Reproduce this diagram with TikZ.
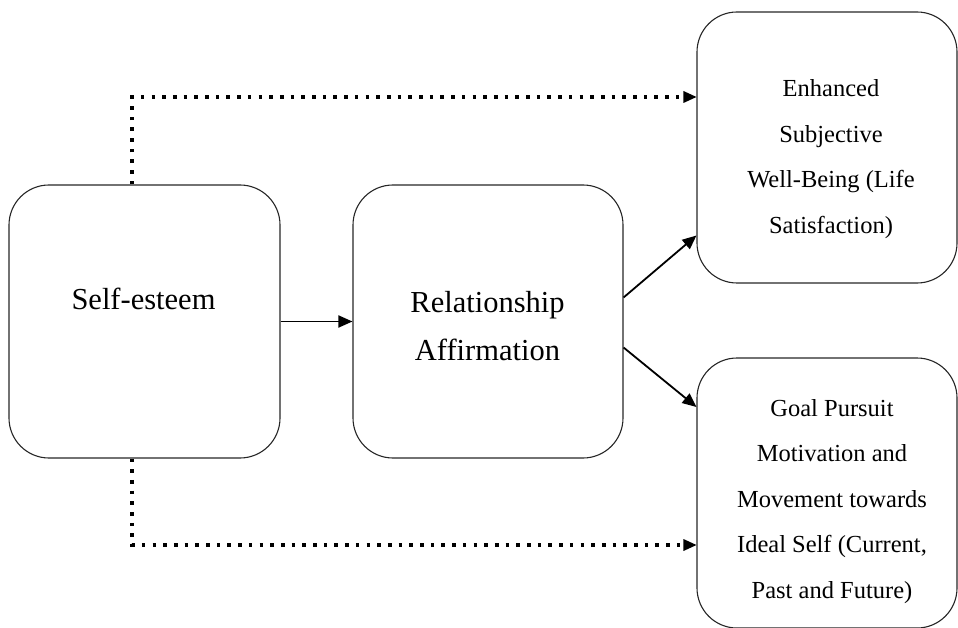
\documentclass[tikz,border=0pt]{standalone}
\usepackage{fontspec}
\setmainfont{Liberation Serif}
\usetikzlibrary{arrows.meta,calc}
\begin{document}
\begin{tikzpicture}[x=1pt,y=-1pt,
  box/.style={draw=black!85,line width=1.1pt,rounded corners=40pt,inner sep=0pt},
  bigtext/.style={align=center,inner sep=0pt,font=\fontsize{30.5}{48}\selectfont},
  smalltext/.style={align=center,inner sep=0pt,font=\fontsize{24.5}{45.5}\selectfont},
  solidarrow/.style={line width=1.8pt,-{Triangle[length=14pt,width=12pt]}},
  dottedarrow/.style={line width=3.6pt,dash pattern=on 3.6pt off 7.1pt,
     -{Triangle[length=13pt,width=12pt,line width=0pt]}}
]
\useasboundingbox (0,0) rectangle (958,628);
% boxes
\node[box,minimum width=271pt,minimum height=273pt] (se) at (144.5,321.5) {};
\node[box,minimum width=270pt,minimum height=273pt] (ra) at (488,321.5) {};
\node[box,minimum width=260pt,minimum height=271pt] (ew) at (827,147.5) {};
\node[box,minimum width=260pt,minimum height=270pt] (gp) at (827,493) {};
% texts
\node[bigtext] (set) at (143.5,299) {Self-esteem};
\node[bigtext] (rat) at (487.5,326) {Relationship\\Affirmation};
\node[smalltext] (ewt) at (831,159) {Enhanced\\Subjective\\Well-Being (Life\\Satisfaction)};
\node[smalltext] (gpt) at (832,501.5) {Goal Pursuit\\Motivation and\\Movement towards\\Ideal Self (Current,\\Past and Future)};
% connectors
\draw[solidarrow] (se.east) -- (ra.west);
\draw[solidarrow] ([yshift=24pt]ra.east) -- ([yshift=-88pt]ew.west);
\draw[solidarrow] ([yshift=-26pt]ra.east) -- ([yshift=86pt]gp.west);
\draw[dottedarrow] ([xshift=-12.5pt]se.north) |- ([yshift=50.5pt]ew.west);
\draw[dottedarrow] ([xshift=-12.5pt]se.south) |- ([yshift=-52pt]gp.west);
\end{tikzpicture}
\end{document}
